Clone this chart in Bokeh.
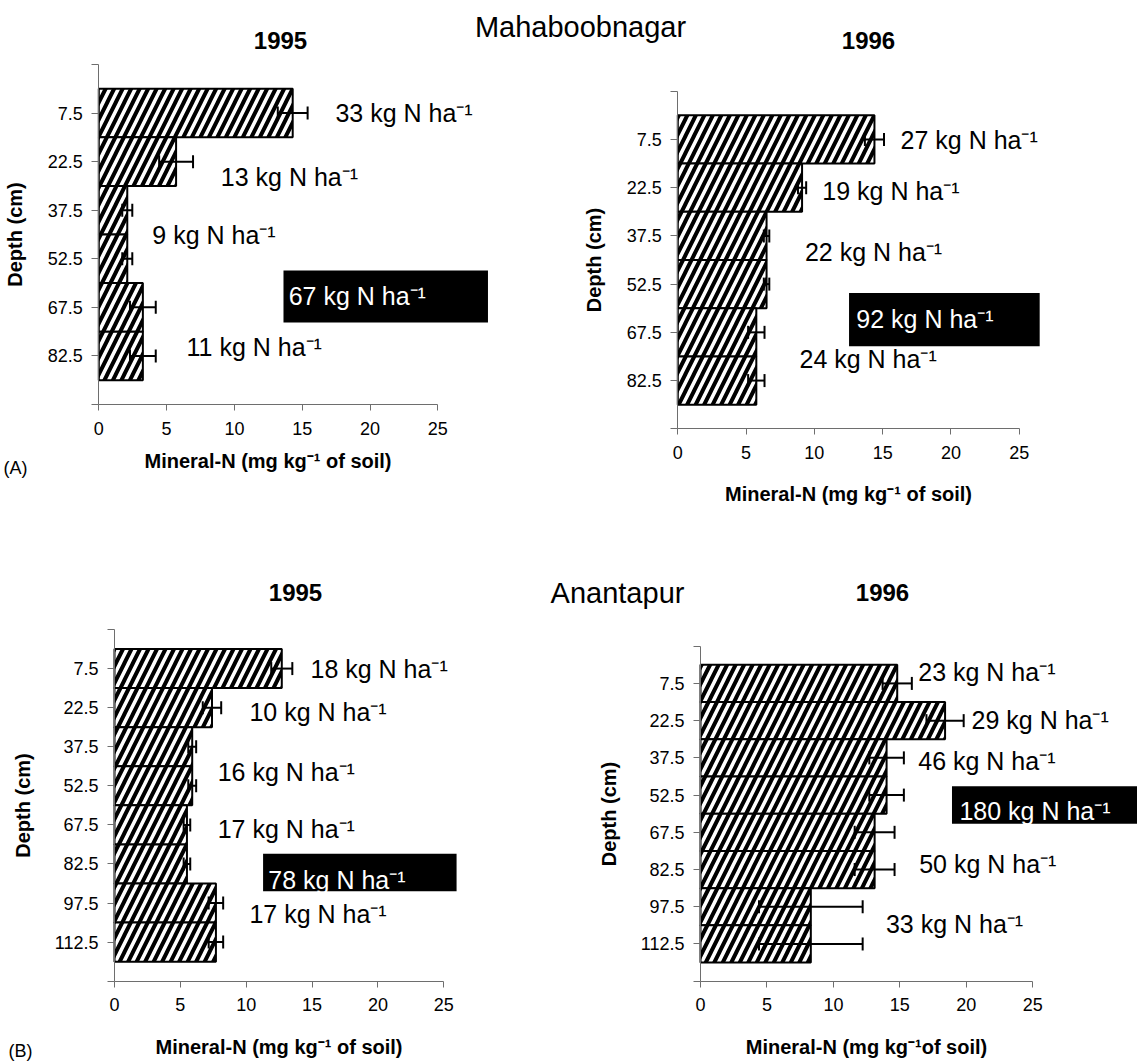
from bokeh.plotting import figure
from bokeh.models import (Range1d, LinearAxis, FixedTicker, Whisker, TeeHead,
                          ColumnDataSource, Label)
from bokeh.core.properties import value
from bokeh.embed import file_html
from bokeh.resources import INLINE

# ---------------- data ----------------
depth_mah = [7.5, 22.5, 37.5, 52.5, 67.5, 82.5]
depth_ana = [7.5, 22.5, 37.5, 52.5, 67.5, 82.5, 97.5, 112.5]

mah_1995 = [14.3, 5.7, 2.1, 2.1, 3.25, 3.25]
mah_1995_err = [1.1, 1.25, 0.37, 0.37, 0.95, 0.95]
mah_1996 = [14.4, 9.1, 6.5, 6.5, 5.75, 5.75]
mah_1996_err = [0.7, 0.3, 0.2, 0.2, 0.6, 0.6]
ana_1995 = [12.7, 7.4, 5.9, 5.9, 5.5, 5.5, 7.7, 7.7]
ana_1995_err = [0.8, 0.7, 0.3, 0.3, 0.25, 0.25, 0.55, 0.55]
ana_1996 = [14.8, 18.4, 14.0, 14.0, 13.1, 13.1, 8.3, 8.3]
ana_1996_err = [1.1, 1.4, 1.3, 1.3, 1.5, 1.5, 3.9, 3.9]

mah_1995_layers = ["33 kg N ha⁻¹", "13 kg N ha⁻¹", "9 kg N ha⁻¹", "11 kg N ha⁻¹"]
mah_1995_total = "67 kg N ha⁻¹"
mah_1996_layers = ["27 kg N ha⁻¹", "19 kg N ha⁻¹", "22 kg N ha⁻¹", "24 kg N ha⁻¹"]
mah_1996_total = "92 kg N ha⁻¹"
ana_1995_layers = ["18 kg N ha⁻¹", "10 kg N ha⁻¹", "16 kg N ha⁻¹", "17 kg N ha⁻¹", "17 kg N ha⁻¹"]
ana_1995_total = "78 kg N ha⁻¹"
ana_1996_layers = ["23 kg N ha⁻¹", "29 kg N ha⁻¹", "46 kg N ha⁻¹", "50 kg N ha⁻¹", "33 kg N ha⁻¹"]
ana_1996_total = "180 kg N ha⁻¹"

x_ticks = [0, 5, 10, 15, 20, 25]
x_label = "Mineral-N (mg kg⁻¹ of soil)"
x_label_br = "Mineral-N (mg kg⁻¹of soil)"
y_label = "Depth (cm)"

# ---------------- layout ----------------
W, H, M = 1137, 1062, 0
FONT = "Liberation Sans"

p = figure(width=W, height=H, output_backend="svg", toolbar_location=None,
           x_range=Range1d(M, M + W), y_range=Range1d(M + H, M),
           x_axis_type=None, y_axis_type=None, min_border=0,
           outline_line_color=None, background_fill_color="white")

panels = [
    dict(key="mah95", depths=depth_mah, vals=mah_1995, errs=mah_1995_err,
         texts=mah_1995_layers, total=mah_1995_total, xlabel=x_label,
         axes=(98.3, 437.3, 64.0, 404.0),
         pos=[(17.45, 7.5), (9.0, 27.3), (3.95, 45.3), (6.47, 79.8)],
         box=(13.62, 28.7, 56.1, 72.2), tpos=(14.0, 64.0), xls=12, yls=18),
    dict(key="mah96", depths=depth_mah, vals=mah_1996, errs=mah_1996_err,
         texts=mah_1996_layers, total=mah_1996_total, xlabel=x_label,
         axes=(677.3, 1018.7, 90.7, 428.3),
         pos=[(16.31, 7.8), (10.58, 23.4), (9.31, 42.6), (8.91, 75.7)],
         box=(12.54, 26.5, 55.3, 71.8), tpos=(13.07, 63.2), xls=21, yls=18),
    dict(key="ana95", depths=depth_ana, vals=ana_1995, errs=ana_1995_err,
         texts=ana_1995_layers, total=ana_1995_total, xlabel=x_label,
         axes=(114.0, 443.3, 629.0, 980.7),
         pos=[(14.88, 7.6), (10.24, 24.2), (7.83, 47.3), (7.83, 69.0), (10.24, 101.6)],
         box=(11.28, 25.97, 78.6, 92.96), tpos=(11.68, 88.7), xls=21, yls=18),
    dict(key="ana96", depths=depth_ana, vals=ana_1996, errs=ana_1996_err,
         texts=ana_1996_layers, total=ana_1996_total, xlabel=x_label_br,
         axes=(700.0, 1032.3, 645.7, 980.7),
         pos=[(16.38, 3.0), (20.39, 22.4), (16.38, 38.6), (16.45, 80.2), (13.95, 104.4)],
         box=(18.92, 40.0, 48.9, 64.07), tpos=(19.48, 58.8), xls=21, yls=18),
]

AXIS_COLOR = "#6e6e6e"
extra_x, extra_y = {}, {}
for P in panels:
    x0, x25, ytop, ybot = P["axes"]
    dtop = -7.5
    dbot = P["depths"][-1] + 15
    sx = (x25 - x0) / 25.0
    xs = -(x0 - M) / sx
    extra_x[P["key"]] = Range1d(xs, xs + W / sx)
    sy = (ybot - ytop) / (dbot - dtop)
    extra_y[P["key"]] = Range1d(dtop + (M + H - ytop) / sy, dtop + (M - ytop) / sy)
p.extra_x_ranges = extra_x
p.extra_y_ranges = extra_y

for P in panels:
    k = P["key"]
    depths = P["depths"]
    dtop = -7.5
    dbot = depths[-1] + 15

    xa = LinearAxis(x_range_name=k, y_range_name=k, fixed_location=dbot, bounds=(0, 25),
                    ticker=FixedTicker(ticks=x_ticks), axis_label=P["xlabel"])
    xa.axis_line_color = AXIS_COLOR
    xa.major_tick_line_color = AXIS_COLOR
    xa.major_tick_in = 0
    xa.major_tick_out = 6
    xa.minor_tick_in = 0
    xa.minor_tick_out = 0
    xa.major_label_standoff = 11
    xa.major_label_text_font = FONT
    xa.major_label_text_font_size = "18px"
    xa.major_label_text_color = "black"
    xa.axis_label_text_font = FONT
    xa.axis_label_text_font_style = "bold"
    xa.axis_label_text_font_size = "20px"
    xa.axis_label_text_color = "black"
    xa.axis_label_standoff = P["xls"]
    p.add_layout(xa, "below")

    ya = LinearAxis(x_range_name=k, y_range_name=k, fixed_location=0, bounds=(dtop, dbot),
                    ticker=FixedTicker(ticks=[dtop] + depths + [dbot]),
                    major_label_overrides={dtop: "", dbot: ""}, axis_label=y_label)
    ya.axis_line_color = AXIS_COLOR
    ya.major_tick_line_color = AXIS_COLOR
    ya.major_tick_in = 0
    ya.major_tick_out = 7
    ya.minor_tick_in = 0
    ya.minor_tick_out = 0
    ya.major_label_standoff = 9
    ya.major_label_text_font = FONT
    ya.major_label_text_font_size = "18px"
    ya.major_label_text_color = "black"
    ya.axis_label_text_font = FONT
    ya.axis_label_text_font_style = "bold"
    ya.axis_label_text_font_size = "20px"
    ya.axis_label_text_color = "black"
    ya.axis_label_standoff = P["yls"]
    p.add_layout(ya, "left")

    src = ColumnDataSource(dict(
        depth=depths, val=P["vals"],
        lo=[v - e for v, e in zip(P["vals"], P["errs"])],
        hi=[v + e for v, e in zip(P["vals"], P["errs"])],
    ))
    p.hbar(y="depth", left=0, right="val", height=15, source=src,
           x_range_name=k, y_range_name=k,
           fill_color="white", line_color="black", line_width=2,
           hatch_pattern="/", hatch_color="black", hatch_weight=4, hatch_scale=17)

    wk = Whisker(source=src, base="depth", lower="lo", upper="hi", dimension="width",
                 x_range_name=k, y_range_name=k, line_color="black", line_width=2,
                 level="annotation",
                 upper_head=TeeHead(size=13, line_width=2, line_color="black"),
                 lower_head=TeeHead(size=13, line_width=2, line_color="black"))
    p.add_layout(wk)

    lsrc = ColumnDataSource(dict(x=[q[0] for q in P["pos"]], y=[q[1] for q in P["pos"]],
                                 t=P["texts"]))
    p.text(x="x", y="y", text="t", source=lsrc, x_range_name=k, y_range_name=k,
           text_font=value(FONT), text_font_size="25px", text_color="black",
           text_baseline="middle", text_align="left")

    bl, br, bt, bb = P["box"]
    p.quad(left=[bl], right=[br], top=[bt], bottom=[bb], x_range_name=k, y_range_name=k,
           fill_color="black", line_color=None)
    p.text(x=[P["tpos"][0]], y=[P["tpos"][1]], text=[P["total"]], x_range_name=k,
           y_range_name=k, text_font=value(FONT), text_font_size="25px",
           text_color="white", text_baseline="middle", text_align="left")

# ---------------- page texts ----------------
def page_label(x, y, text, size, bold=False, align="center"):
    p.add_layout(Label(x=x, y=y, text=text, text_font=FONT, text_font_size=size,
                       text_font_style="bold" if bold else "normal",
                       text_color="black", text_align=align, text_baseline="middle"))

page_label(580, 26, "Mahaboobnagar", "29px")
page_label(617, 592, "Anantapur", "29px")
page_label(280, 40, "1995", "24px", bold=True)
page_label(868, 40, "1996", "24px", bold=True)
page_label(295, 592, "1995", "24px", bold=True)
page_label(882, 592, "1996", "24px", bold=True)
page_label(3, 467, "(A)", "18px", align="left")
page_label(8, 1050, "(B)", "18px", align="left")

open("out.html", "w").write(file_html(p, INLINE))
